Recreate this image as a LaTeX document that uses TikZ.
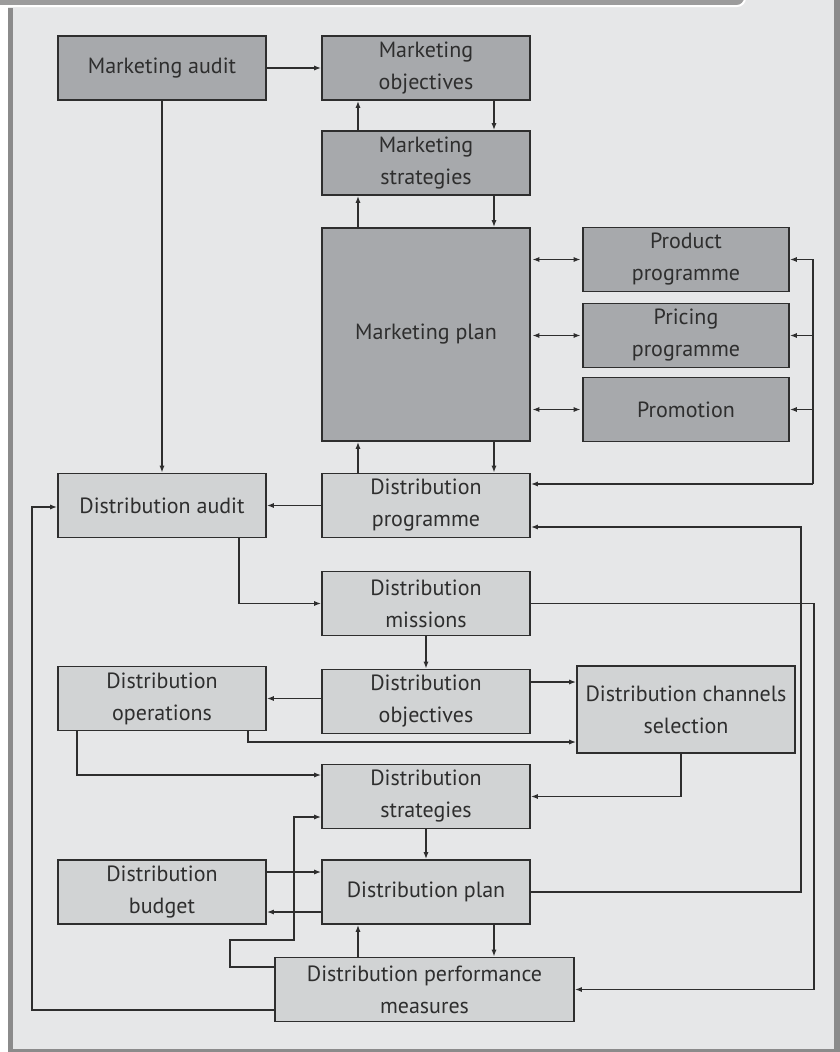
\documentclass[tikz,border=0pt]{standalone}
\usepackage{fontspec}
\setmainfont{PT Sans}
\usetikzlibrary{arrows.meta}

\definecolor{panelgray}{HTML}{E6E7E8}
\definecolor{framegray}{HTML}{8B8B8B}
\definecolor{headgray}{HTML}{9C9C9C}
\definecolor{mktfill}{HTML}{A7A9AC}
\definecolor{distfill}{HTML}{D1D3D4}
\definecolor{inkgray}{HTML}{2E2E2E}

\begin{document}
\begin{tikzpicture}[x=1pt, y=-1pt,
	box/.style={draw=inkgray, line width=1.6pt, align=center, inner sep=0pt,
		minimum width=208pt, minimum height=64pt, text=inkgray,
		font=\fontsize{22}{32}\selectfont},
	mkt/.style={box, fill=mktfill},
	dist/.style={box, fill=distfill},
	arr/.style={draw=inkgray, line width=1.3pt, -{Latex[length=7pt, width=5pt]}},
	twoway/.style={arr, {Latex[length=7pt, width=5pt]}-{Latex[length=7pt, width=5pt]}}]
	\useasboundingbox (0,0) rectangle (840,1052);
	% frame
	\fill[panelgray] (8,0) rectangle (840,1052);
	\fill[framegray] (8,8) rectangle (13,1052);
	\fill[framegray] (834,0) rectangle (840,1052);
	\fill[framegray] (8,1049) rectangle (840,1052);
	\fill[headgray, draw=white, line width=2pt, rounded corners=8pt] (-20,-20) rectangle (745,6);

	% marketing side
	\node[mkt] (mAudit) at (162,68) {Marketing audit};
	\node[mkt] (mObj) at (426,68) {Marketing\\objectives};
	\node[mkt] (mStrat) at (426,163) {Marketing\\strategies};
	\node[mkt, minimum height=213pt] (mPlan) at (426,334.5) {Marketing plan};
	\node[mkt, minimum width=206pt] (prodProg) at (686,259.5) {Product\\programme};
	\node[mkt, minimum width=206pt] (priceProg) at (686,335.5) {Pricing\\programme};
	\node[mkt, minimum width=206pt] (promo) at (686,409.5) {Promotion};

	% distribution side
	\node[dist] (dAudit) at (162,505.5) {Distribution audit};
	\node[dist] (dProg) at (426,505.5) {Distribution\\programme};
	\node[dist] (dMiss) at (426,603.5) {Distribution\\missions};
	\node[dist] (dOps) at (162,698.5) {Distribution\\operations};
	\node[dist] (dObj) at (426,701.5) {Distribution\\objectives};
	\node[dist, minimum width=218pt, minimum height=87pt] (dChan) at (686,709.5) {Distribution channels\\selection};
	\node[dist] (dStrat) at (426,796.5) {Distribution\\strategies};
	\node[dist] (dBudget) at (162,892) {Distribution\\budget};
	\node[dist] (dPlan) at (426,892) {Distribution plan};
	\node[dist, minimum width=299pt] (dPerf) at (424.5,989.5) {Distribution performance\\measures};

	\coordinate (mixJ) at (813,484);
	\coordinate (loopL) at (32,507);
	\coordinate (loopR1) at (801,527);
	\coordinate (loopR2) at (814,603);
	\coordinate (kinkA) at (230,940);
	\coordinate (kinkB) at (294,817);
	\coordinate (objOut) at ([yshift=19.5pt]dObj.east);
	\coordinate (pUp) at ([xshift=-68pt]dPlan.south);
	\coordinate (pDn) at ([xshift=68pt]dPlan.south);

	\draw[arr] (mAudit) -- (mObj);
	\draw[arr] (mAudit) -- (dAudit);
	\foreach \lo/\hi in {mStrat/mObj, mPlan/mStrat, dProg/mPlan} {
		\draw[arr] ([xshift=-68pt]\lo.north) -- ([xshift=-68pt]\hi.south);
		\draw[arr] ([xshift=68pt]\hi.south) -- ([xshift=68pt]\lo.north);
	}
	\foreach \p in {prodProg, priceProg, promo} {
		\draw[twoway, shorten <=1.5pt, shorten >=1.5pt] (mPlan.east |- \p) -- (\p.west);
		\draw[arr] (mixJ) |- (\p.east);
	}
	\draw[arr] (mixJ) -- (dProg.east |- mixJ);
	\draw[arr] (dProg) -- (dAudit);
	\draw[arr] ([xshift=77pt]dAudit.south) |- (dMiss.west);
	\draw[arr] ([yshift=-20.5pt]dPerf.west) -| (loopL) -- (dAudit.west |- loopL);
	\draw[arr] (dPlan.east) -| (loopR1) -- (dProg.east |- loopR1);
	\draw[arr] (dMiss.east) -| (loopR2) |- (dPerf.east);
	\draw[arr] (dMiss) -- (dObj);
	\draw[arr] (dObj.west |- dOps) -- (dOps.east);
	\draw[arr] (objOut) -- (objOut -| dChan.west);
	\draw[arr] ([xshift=86pt]dOps.south) |- ([yshift=-32.5pt]dChan.west);
	\draw[arr] ([xshift=-85pt]dOps.south) |- ([yshift=21.5pt]dStrat.west);
	\draw[arr] ([xshift=-5pt]dChan.south) |- (dStrat.east);
	\draw[arr] (dStrat) -- (dPlan);
	\draw[arr] ([yshift=20pt]dBudget.east) -- ([yshift=20pt]dPlan.west);
	\draw[arr] ([yshift=-20pt]dPlan.west) -- ([yshift=-20pt]dBudget.east);
	\draw[arr] (pUp |- dPerf.north) -- (pUp);
	\draw[arr] (pDn) -- (pDn |- dPerf.north);
	\draw[arr] ([yshift=22.5pt]dPerf.west) -| (kinkA) -| (kinkB) -- (kinkB -| dStrat.west);
\end{tikzpicture}
\end{document}
